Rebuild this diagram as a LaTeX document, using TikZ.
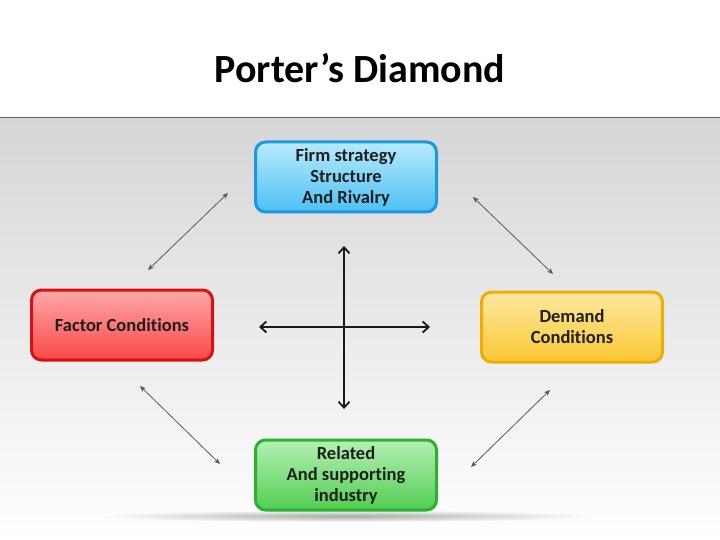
\documentclass[tikz,border=0pt]{standalone}
\usepackage{fontspec}
\setmainfont[Ligatures=NoCommon]{Carlito}
\usetikzlibrary{arrows.meta,shadings}
\definecolor{bgtop}{HTML}{D6D6D6}
\definecolor{rule}{HTML}{7A5A5E}
\definecolor{bluebd}{HTML}{1C98DE}
\definecolor{bluetop}{HTML}{B8EAFD}
\definecolor{bluebot}{HTML}{4DC0F2}
\definecolor{redbd}{HTML}{D81010}
\definecolor{redtop}{HTML}{FFA8A8}
\definecolor{redbot}{HTML}{F84848}
\definecolor{yelbd}{HTML}{EDAE08}
\definecolor{yeltop}{HTML}{FFE8A0}
\definecolor{yelbot}{HTML}{FAC832}
\definecolor{grnbd}{HTML}{2FAE2F}
\definecolor{grntop}{HTML}{B4F0B4}
\definecolor{grnbot}{HTML}{52CE52}
\tikzset{
  x=1pt,y=-1pt,
  boxtext/.style={font=\fontsize{18.5}{21}\selectfont\bfseries, text=black!88, align=center},
  cbox/.style n args={3}{rounded corners=10pt, line width=3pt, draw=#1,
     top color=#2, bottom color=#3, minimum width=181pt, minimum height=70pt,
     inner sep=0pt, boxtext},
  thinarr/.style={draw=black!65, line width=0.8pt, {Stealth[length=6pt,width=5pt]}-{Stealth[length=6pt,width=5pt]}},
  thickarr/.style={draw=black!90, line width=2pt, {Straight Barb[length=6pt,width=11pt,line width=1.8pt]}-{Straight Barb[length=6pt,width=11pt,line width=1.8pt]}}
}
\begin{document}
\begin{tikzpicture}
\useasboundingbox (0,0) rectangle (720,540);
\fill[white] (0,0) rectangle (720,540);
\shade[top color=bgtop, bottom color=white] (0,118) rectangle (720,540);
\draw[rule, line width=1pt] (0,118) -- (720,118);
\node[font=\fontsize{40}{44}\selectfont\bfseries] (title) at (360,68) {Porter’s Diamond};
% shadow beneath bottom box
\shade[inner color=black!55, outer color=white, opacity=0.6] (346,516) ellipse [x radius=250, y radius=6];
\node[cbox={bluebd}{bluetop}{bluebot}] (firm) at (346,177) {Firm strategy\\Structure\\And Rivalry};
\node[cbox={redbd}{redtop}{redbot}] (factor) at (122,325) {Factor Conditions};
\node[cbox={yelbd}{yeltop}{yelbot}] (demand) at (572,327) {Demand\\Conditions};
\node[cbox={grnbd}{grntop}{grnbot}] (related) at (346,475) {Related\\And supporting\\industry};
% diagonal arrows
\coordinate (tl1) at (148,270); \coordinate (tl2) at (228,193);
\coordinate (tr1) at (473,197); \coordinate (tr2) at (553,274);
\coordinate (bl1) at (140,386); \coordinate (bl2) at (220,464);
\coordinate (br1) at (550,390); \coordinate (br2) at (471,467);
\draw[thinarr] (tl1) -- (tl2);
\draw[thinarr] (tr1) -- (tr2);
\draw[thinarr] (bl1) -- (bl2);
\draw[thinarr] (br1) -- (br2);
% central cross
\coordinate (vt) at (344,246); \coordinate (vb) at (344,409);
\coordinate (hl) at (259,327); \coordinate (hr) at (430,327);
\draw[thickarr] (vt) -- (vb);
\draw[thickarr] (hl) -- (hr);
\end{tikzpicture}
\end{document}
